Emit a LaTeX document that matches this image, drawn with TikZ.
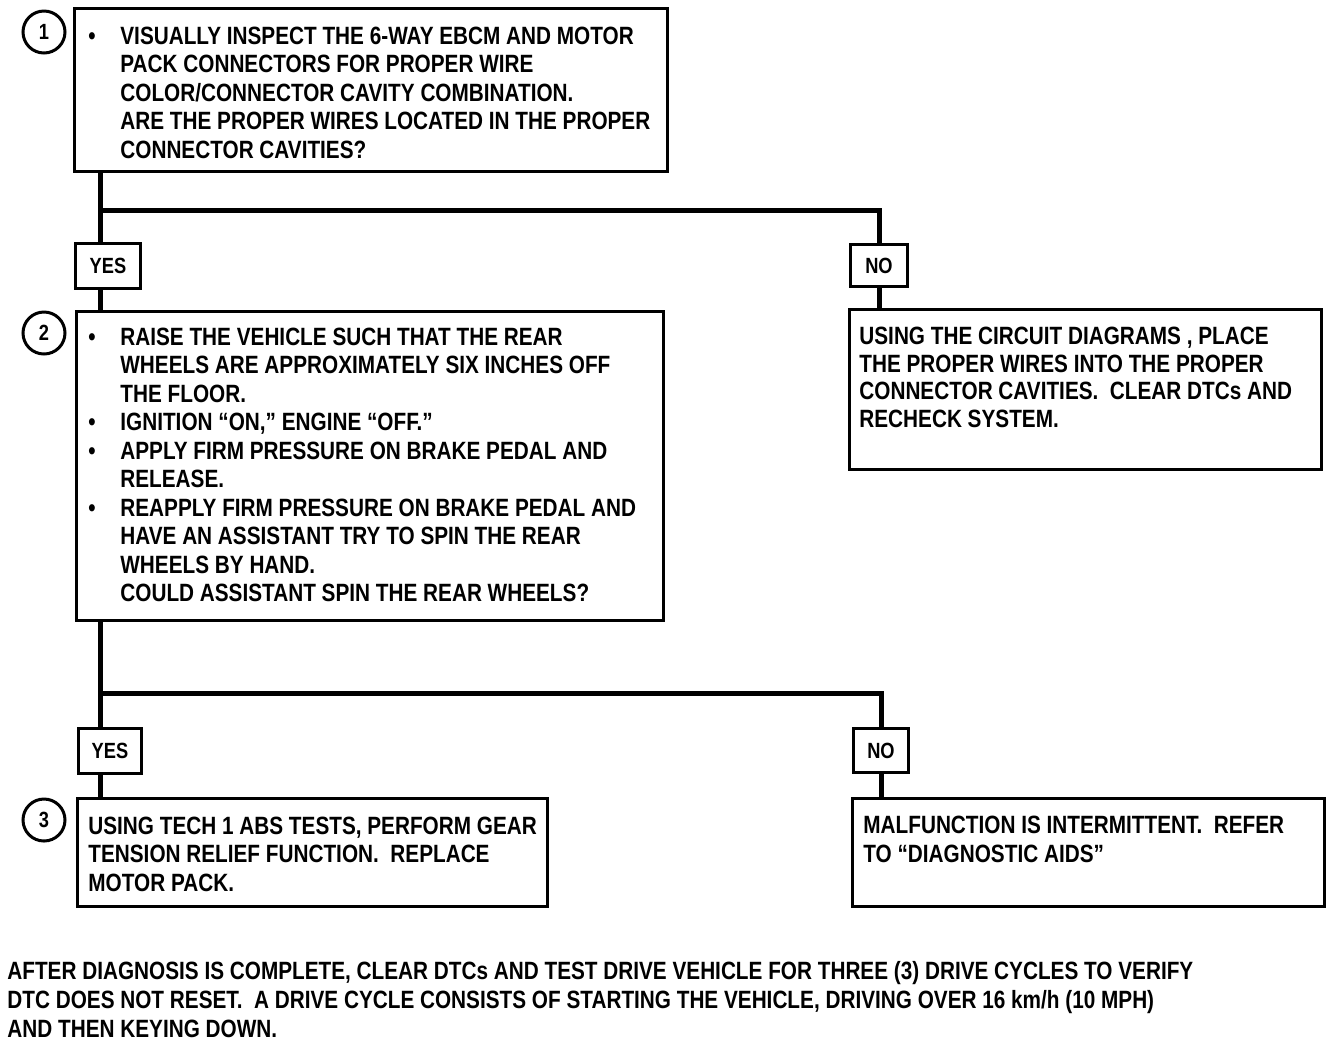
\documentclass[tikz,border=0pt]{standalone}
\usepackage{fontspec}
\setmainfont{Liberation Sans}[FakeStretch=0.83]
\newcommand\bul{\makebox[16pt][l]{•}}
\newcommand\ind{\hspace*{16pt}}
\newcommand\dsp{\ \ }
\begin{document}
\begin{tikzpicture}[x=0.5pt,y=-0.5pt,
  box/.style={draw, line width=1.5pt, inner sep=0pt, anchor=north west},
  lbl/.style={box, font=\bfseries\fontsize{11}{12}\selectfont},
  txt/.style={anchor=north west, inner sep=0pt, align=left, font=\bfseries\fontsize{12.5}{14.25}\selectfont},
  num/.style={circle, draw, line width=1.5pt, minimum size=21pt, inner sep=0pt, font=\bfseries\fontsize{11}{12}\selectfont},
  wire/.style={line width=2.5pt}]
\useasboundingbox[fill=white] (0,0) rectangle (1344,1046);
% boxes
\node[box, minimum width=296.5pt, minimum height=81.5pt] (b1) at (73,7) {};
\node[lbl, minimum width=32.5pt, minimum height=22.5pt] (y1) at (74,242) {YES};
\node[lbl, minimum width=28.5pt, minimum height=21pt] (n1) at (849,243) {NO};
\node[box, minimum width=293.5pt, minimum height=154.5pt] (b2) at (75,310) {};
\node[box, minimum width=236pt, minimum height=80pt] (r1) at (848,308) {};
\node[lbl, minimum width=31.5pt, minimum height=22.5pt] (y2) at (77,727) {YES};
\node[lbl, minimum width=27.5pt, minimum height=22pt] (n2) at (852,727) {NO};
\node[box, minimum width=235pt, minimum height=54pt] (b3) at (76,797) {};
\node[box, minimum width=236pt, minimum height=54pt] (r2) at (851,797) {};
% step numbers
\node[num] (c1) at (44,32) {1};
\node[num] (c2) at (44,333) {2};
\node[num] (c3) at (44,820) {3};
% connectors
\coordinate (t1) at (100,210);
\draw[wire] (b1.south -| t1) -- (y1.north -| t1);
\draw[wire] (y1.south -| t1) -- (b2.north -| t1);
\draw[wire] (t1) -| (n1.north);
\draw[wire] (n1.south) -- (r1.north -| n1.south);
\coordinate (t2) at (100,693);
\draw[wire] (b2.south -| t2) -- (y2.north -| t2);
\draw[wire] (y2.south -| t2) -- (b3.north -| t2);
\draw[wire] (t2) -| (n2.north);
\draw[wire] (n2.south) -- (r2.north -| n2.south);
% texts
\node[txt] (x1) at (88,24) {\rule{0pt}{10pt}\bul VISUALLY INSPECT THE 6-WAY EBCM AND MOTOR\\
\ind PACK CONNECTORS FOR PROPER WIRE\\
\ind COLOR/CONNECTOR CAVITY COMBINATION.\\
\ind ARE THE PROPER WIRES LOCATED IN THE PROPER\\
\ind CONNECTOR CAVITIES?};
\node[txt] (x2) at (88,325) {\rule{0pt}{10pt}\bul RAISE THE VEHICLE SUCH THAT THE REAR\\
\ind WHEELS ARE APPROXIMATELY SIX INCHES OFF\\
\ind THE FLOOR.\\
\bul IGNITION “ON,” ENGINE “OFF.”\\
\bul APPLY FIRM PRESSURE ON BRAKE PEDAL AND\\
\ind RELEASE.\\
\bul REAPPLY FIRM PRESSURE ON BRAKE PEDAL AND\\
\ind HAVE AN ASSISTANT TRY TO SPIN THE REAR\\
\ind WHEELS BY HAND.\\
\ind COULD ASSISTANT SPIN THE REAR WHEELS?};
\node[txt, font=\bfseries\fontsize{12.5}{13.85}\selectfont] (x3) at (859,324) {\rule{0pt}{10pt}USING THE CIRCUIT DIAGRAMS , PLACE\\
THE PROPER WIRES INTO THE PROPER\\
CONNECTOR CAVITIES.\dsp CLEAR DTCs AND\\
RECHECK SYSTEM.};
\node[txt] (x4) at (88,814) {\rule{0pt}{10pt}USING TECH 1 ABS TESTS, PERFORM GEAR\\
TENSION RELIEF FUNCTION.\dsp REPLACE\\
MOTOR PACK.};
\node[txt, font=\bfseries\fontsize{12.5}{14.5}\selectfont] (x5) at (863,813) {\rule{0pt}{10pt}MALFUNCTION IS INTERMITTENT.\dsp REFER\\
TO “DIAGNOSTIC AIDS”};
\node[txt, font=\bfseries\fontsize{12.5}{14.5}\selectfont] (x6) at (7,959) {\rule{0pt}{10pt}AFTER DIAGNOSIS IS COMPLETE, CLEAR DTCs AND TEST DRIVE VEHICLE FOR THREE (3) DRIVE CYCLES TO VERIFY\\
DTC DOES NOT RESET.\dsp A DRIVE CYCLE CONSISTS OF STARTING THE VEHICLE, DRIVING OVER 16 km/h (10 MPH)\\
AND THEN KEYING DOWN.};
\end{tikzpicture}
\end{document}
